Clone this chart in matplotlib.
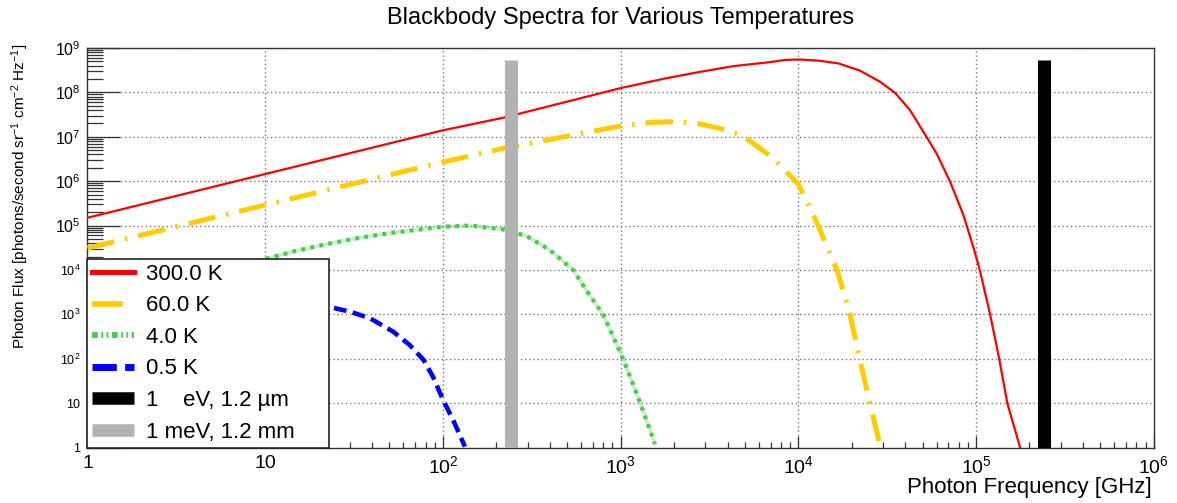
import matplotlib
matplotlib.use("Agg")
import matplotlib.pyplot as plt
from matplotlib.lines import Line2D
from matplotlib.ticker import LogLocator, FixedLocator, NullFormatter

plt.rcParams['font.family'] = ['Liberation Sans', 'DejaVu Sans']
plt.rcParams['mathtext.fontset'] = 'custom'
plt.rcParams['mathtext.rm'] = 'Liberation Sans'
plt.rcParams['mathtext.it'] = 'Liberation Sans:italic'
plt.rcParams['mathtext.bf'] = 'Liberation Sans:bold'

# ---------------- data ----------------
freq_300K = [1, 10, 100, 220, 1000, 1820, 2800, 4300, 6600, 8500, 10200, 13000,
             16800, 22200, 28800, 35000, 42500, 52600, 60000, 71500, 85000, 96500,
             105000, 120000, 135000, 150000, 177000]
flux_300K = [1.5e5, 1.45e6, 1.4e7, 2.7e7, 1.25e8, 2.1e8, 2.9e8, 3.9e8, 4.7e8, 5.4e8,
             5.5e8, 5.2e8, 4.5e8, 3.1e8, 1.74e8, 9.8e7, 4.0e7, 1.0e7, 4.2e6, 9.7e5,
             1.7e5, 3.3e4, 1.0e4, 1.0e3, 100, 10, 1]

freq_60K = [1, 10, 100, 220, 1000, 1470, 2000, 2800, 4000, 4900, 7200, 8600, 10000,
            11600, 13000, 16500, 19500, 22000, 25000, 29000]
flux_60K = [3.1e4, 2.9e5, 2.7e6, 5.5e6, 1.75e7, 2.1e7, 2.2e7, 1.95e7, 1.4e7, 1.04e7,
            3.3e6, 1.6e6, 8.5e5, 2.6e5, 9.4e4, 1.0e4, 1.05e3, 110, 12, 1]

freq_4K = [1, 3, 10.2, 14.4, 22, 33, 52, 100, 142, 218, 296, 400, 466, 540, 658,
           800, 1040, 1290, 1560]
flux_4K = [2.0e3, 6.0e3, 1.8e4, 2.6e4, 3.8e4, 5.2e4, 6.9e4, 9.4e4, 1.0e5, 8.2e4,
           5.8e4, 2.8e4, 1.66e4, 1.0e4, 3.0e3, 960, 93, 10, 1.2]

freq_05K = [1, 3, 10, 15, 22.7, 30, 39, 52.6, 65, 78, 88, 100, 114, 133]
flux_05K = [240, 650, 1.5e3, 1.65e3, 1.48e3, 1.15e3, 810, 405, 204, 93, 39, 12, 4.2, 1.05]

bar_freqs = [2.42e5, 241.8]          # 1 eV, 1 meV
bar_bottom = 1
bar_top = 5.5e8

legend_labels = ['300.0 K', '60.0 K', '4.0 K', '0.5 K',
                 '1    eV, 1.2 \u00b5m', '1 meV, 1.2 mm']
xtick_vals = [1, 10, 1e2, 1e3, 1e4, 1e5, 1e6]
xtick_labels = ['1', '10', '$10^{2}$', '$10^{3}$', '$10^{4}$', '$10^{5}$', '$10^{6}$']
ytick_vals = [1, 10, 1e2, 1e3, 1e4, 1e5, 1e6, 1e7, 1e8, 1e9]
ytick_labels = ['1', '10', '$10^{2}$', '$10^{3}$', '$10^{4}$', '$10^{5}$',
                '$10^{6}$', '$10^{7}$', '$10^{8}$', '$10^{9}$']

title = 'Blackbody Spectra for Various Temperatures'
xlabel = 'Photon Frequency [GHz]'
ylabel = 'Photon Flux [photons/second sr$^{-1}$ cm$^{-2}$ Hz$^{-1}$]'

# ---------------- styles ----------------
RED = '#FF0000'
YEL = '#FFCC00'
GRN = '#4CC84C'
BLU = '#0000FF'
GRY = '#B3B3B3'

W, H = 1177, 503
fig = plt.figure(figsize=(W / 100, H / 100), dpi=100)
left, right, bottom, top = 87.5, 1153.7, 447.5, 48.0
ax = fig.add_axes([left / W, 1 - bottom / H, (right - left) / W, (bottom - top) / H])
ax.set_xscale('log')
ax.set_yscale('log')
ax.set_xlim(1, 1e6)
ax.set_ylim(1, 1e9)

# grid
for v in xtick_vals[1:-1]:
    ax.axvline(v, color='#777777', lw=1.0, ls=(0, (1, 2)), zorder=1)
for v in ytick_vals[1:]:
    ax.axhline(v, color='#777777', lw=1.0, ls=(0, (1, 2)), zorder=1)

# curves
ax.plot(freq_300K, flux_300K, color=RED, lw=1.6, zorder=3, solid_joinstyle='round')
ax.plot(freq_60K, flux_60K, color=YEL, lw=3.6, ls=(0, (5.5, 2.2, 0.5, 2.2)), zorder=3)
ax.plot(freq_4K, flux_4K, color=GRN, lw=2.6, alpha=0.3, zorder=3)
ax.plot(freq_4K, flux_4K, color=GRN, lw=3.0, ls=(0, (0.9, 1.3)), zorder=3)
ax.plot(freq_05K, flux_05K, color=BLU, lw=3.3, ls=(0, (2.8, 1.4)), zorder=3)

# energy bars
ax.vlines(bar_freqs, bar_bottom, bar_top, colors=['black', GRY], lw=9.4,
          capstyle='butt', zorder=4)

# ticks
ax.xaxis.set_major_locator(FixedLocator(xtick_vals))
ax.xaxis.set_minor_locator(LogLocator(base=10, subs=range(2, 10), numticks=20))
ax.xaxis.set_minor_formatter(NullFormatter())
ax.set_xticklabels(xtick_labels, fontsize=14)
ax.yaxis.set_major_locator(FixedLocator(ytick_vals))
ax.yaxis.set_minor_locator(LogLocator(base=10, subs=range(2, 10), numticks=20))
ax.yaxis.set_minor_formatter(NullFormatter())
ax.set_yticklabels(ytick_labels)
for i, t in enumerate(ax.get_yticklabels()):
    t.set_fontsize(11.5 if i >= 5 else 9)

ax.tick_params(axis='x', which='major', direction='in', length=8.6, width=0.9,
               color='#333333', pad=5.5, top=False)
ax.tick_params(axis='x', which='minor', direction='in', length=4.3, width=0.9,
               color='#333333', top=False)
ax.tick_params(axis='y', which='major', direction='in', length=23.8, width=0.9,
               color='#333333', pad=5, right=False)
ax.tick_params(axis='y', which='minor', direction='in', length=11.5, width=0.9,
               color='#333333', right=False)
for s in ax.spines.values():
    s.set_color('#333333')
    s.set_linewidth(1.0)

# legend
handles = [
    Line2D([], [], color=RED, lw=3.6),
    Line2D([], [], color=YEL, lw=4.0, ls=(0, (5.5, 2.2, 0.5, 2.2))),
    Line2D([], [], color=GRN, lw=4.2, ls=(0, (1.0, 0.6, 0.3, 0.6, 0.3, 0.6))),
    Line2D([], [], color=BLU, lw=5.0, ls=(0, (3.5, 1.2))),
    Line2D([], [], color='black', lw=9.0, solid_capstyle='butt'),
    Line2D([], [], color=GRY, lw=9.0, solid_capstyle='butt'),
]
leg = ax.legend(handles, legend_labels, loc='lower left',
                bbox_to_anchor=(0, 0, (329 - left) / (right - left), 1),
                mode='expand', borderaxespad=0, fontsize=16, handlelength=1.85,
                handletextpad=0.55, borderpad=0.22, labelspacing=0.476,
                fancybox=False, framealpha=1, edgecolor='#222222')
leg.get_frame().set_linewidth(1.2)
leg.set_zorder(10)

# texts
fig.text(620.6 / W, 1 - 18 / H, title, ha='center', va='center', fontsize=17)
fig.text(1152 / W, 1 - 487.5 / H, xlabel, ha='right', va='center', fontsize=16)
fig.text(20 / W, 1 - 44 / H, ylabel, ha='center', va='top', rotation=90, fontsize=11)

fig.savefig('out.png', dpi=100)
